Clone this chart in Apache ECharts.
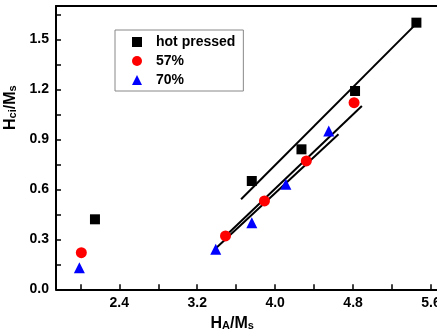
<!DOCTYPE html>
<html>
<head>
<meta charset="utf-8">
<script src="https://cdn.jsdelivr.net/npm/echarts@6/dist/echarts.min.js"></script>
<style>
  html, body { margin: 0; padding: 0; background: #fff; }
  #chart { width: 437px; height: 331px; }
</style>
</head>
<body>
<div id="chart"></div>
<script>
// 数据点 [HA/Ms, Hci/Ms]
var hotPressed = [[2.15, 0.42], [3.76, 0.65], [4.27, 0.84], [4.82, 1.19], [5.45, 1.60]];
var p57 = [[2.01, 0.22], [3.49, 0.32], [3.89, 0.53], [4.32, 0.77], [4.81, 1.12]];
var p70 = [[1.99, 0.13], [3.39, 0.24], [3.76, 0.40], [4.11, 0.63], [4.55, 0.95]];

// 拟合直线端点
var fitHot = [[3.65, 0.54], [5.46, 1.60]];
var fit57 = [[3.49, 0.32], [4.89, 1.10]];
var fit70 = [[3.38, 0.24], [4.65, 0.93]];

var xTicks = [2.4, 3.2, 4.0, 4.8, 5.6];
var xMinor = [2.0, 2.8, 3.6, 4.4, 5.2];
var yTicks = [0.0, 0.3, 0.6, 0.9, 1.2, 1.5];
var yMinor = [0.15, 0.45, 0.75, 1.05, 1.35, 1.65];

var chart = echarts.init(document.getElementById('chart'));

var font = 'Liberation Sans, Arial, sans-serif';
var nameRich = {
    b: { fontSize: 16, fontWeight: 'bold', fontFamily: font, color: '#000' },
    s: { fontSize: 11, fontWeight: 'bold', fontFamily: font, color: '#000', padding: [5, 0, 0, 0] }
};

function fitLine(data) {
    return {
        type: 'line',
        data: data,
        symbol: 'none',
        silent: true,
        lineStyle: { color: '#000', width: 2 },
        z: 1
    };
}

var option = {
    backgroundColor: '#fff',
    animation: false,
    grid: { left: 56, top: 6, width: 394.5, height: 283.3, outerBoundsMode: 'none', containLabel: false },
    legend: {
        data: ['hot pressed', '57%', '70%'],
        orient: 'vertical',
        left: 115,
        top: 30,
        padding: [5, 8, 4, 17],
        itemWidth: 10,
        itemHeight: 10,
        itemGap: 5,
        borderColor: '#888',
        borderWidth: 1,
        textStyle: { fontSize: 14, fontWeight: 'bold', fontFamily: font, color: '#000', lineHeight: 14, padding: [0, 0, 0, 9] }
    },
    xAxis: [{
        type: 'value',
        min: 1.75,
        max: 5.8,
        position: 'bottom',
        name: '{b|H}{s|A}{b|/M}{s|s}',
        nameLocation: 'middle',
        nameGap: 22,
        nameTextStyle: { rich: nameRich, padding: [0, 42, 0, 0] },
        axisLine: { onZero: false, lineStyle: { color: '#000', width: 2 } },
        axisTick: { inside: true, length: 5, customValues: xTicks.concat(xMinor), lineStyle: { color: '#000', width: 1.5 } },
        axisLabel: { customValues: xTicks, formatter: function (v) { return v.toFixed(1); }, fontSize: 14, fontWeight: 'bold', fontFamily: font, color: '#000', margin: 7 },
        splitLine: { show: false }
    }, {
        type: 'value',
        min: 1.75,
        max: 5.8,
        position: 'top',
        axisLine: { onZero: false, lineStyle: { color: '#000', width: 2 } },
        axisTick: { show: false },
        axisLabel: { show: false },
        splitLine: { show: false }
    }],
    yAxis: {
        type: 'value',
        min: 0,
        max: 1.7,
        name: '{b|H}{s|ci}{b|/M}{s|s}',
        nameLocation: 'middle',
        nameGap: 33,
        nameRotate: 90,
        nameTextStyle: { rich: nameRich, padding: [0, 0, 0, 80] },
        axisLine: { onZero: false, lineStyle: { color: '#000', width: 2 } },
        axisTick: { inside: true, length: 5, customValues: yTicks.concat(yMinor), lineStyle: { color: '#000', width: 1.5 } },
        axisLabel: { customValues: yTicks, formatter: function (v) { return v.toFixed(1); }, fontSize: 14, fontWeight: 'bold', fontFamily: font, color: '#000', margin: 7 },
        splitLine: { show: false }
    },
    series: [
        fitLine(fitHot),
        fitLine(fit57),
        fitLine(fit70),
        { name: 'hot pressed', type: 'scatter', data: hotPressed, symbol: 'rect', symbolSize: 10, itemStyle: { color: '#000', opacity: 1 }, z: 3 },
        { name: '57%', type: 'scatter', data: p57, symbol: 'circle', symbolSize: 11, itemStyle: { color: '#ff0000', opacity: 1 }, z: 3 },
        { name: '70%', type: 'scatter', data: p70, symbol: 'triangle', symbolSize: 11, itemStyle: { color: '#0000ff', opacity: 1 }, z: 3 }
    ]
};

chart.setOption(option);
</script>
</body>
</html>
